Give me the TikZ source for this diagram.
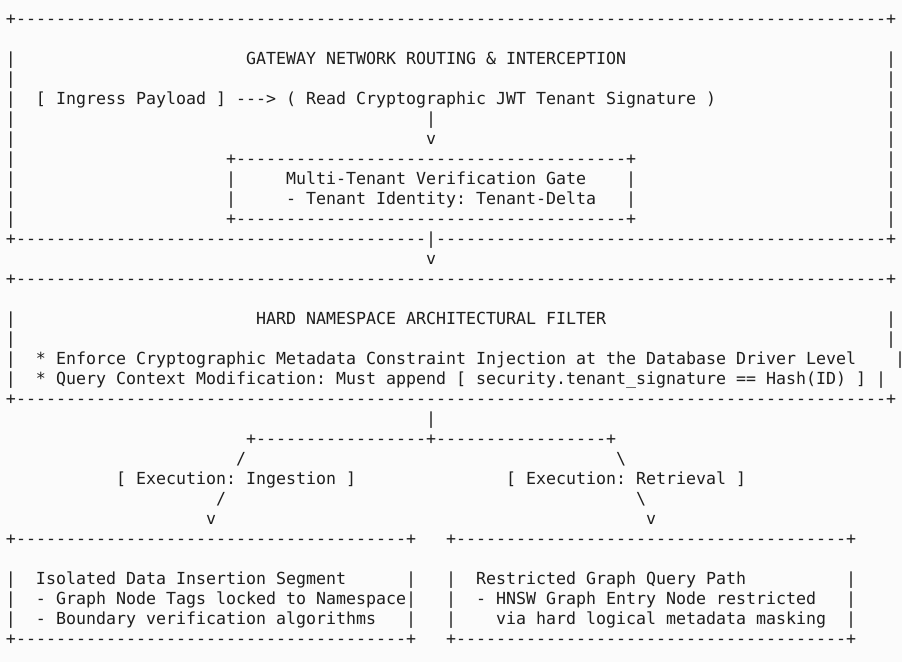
\documentclass[tikz,border=0pt]{standalone}
\usepackage{fontspec}
\setmonofont{DejaVu Sans Mono}
\definecolor{inkgray}{HTML}{1E1E1E}
\definecolor{paper}{HTML}{FBFBFB}
\newcommand{\rulech}[1]{\foreach \k in {1,...,#1}{-}}
\tikzset{
  asc/.style={anchor=base west,inner sep=0pt,outer sep=0pt,text=inkgray,
    font=\fontsize{12.46pt}{15pt}\ttfamily}
}
\begin{document}
\begin{tikzpicture}[x=7.5pt,y=-15pt]

\fill[paper] (0,0) rectangle (90.2,33.1) ;
\useasboundingbox (0,0) rectangle (90.2,33.1) ;

% gateway block
\node[asc] (gw_top) at (0.6,1.2) {+\rulech{87}+} ;
\foreach \r in {2,...,10} {
  \node[asc] (gw_l\r) at (0.6,\r+1.2) {|} ;
  \node[asc] (gw_r\r) at (88.6,\r+1.2) {|} ;
}
\node[asc] (gw_title) at (24.6,3.2) {GATEWAY NETWORK ROUTING \& INTERCEPTION} ;
\node[asc] (gw_flow) at (3.6,5.2) {[ Ingress Payload ] ---> ( Read Cryptographic JWT Tenant Signature )} ;
\node[asc] (gw_bar) at (42.6,6.2) {|} ;
\node[asc] (gw_v) at (42.6,7.2) {v} ;

\node[asc] (gate_top) at (22.6,8.2) {+\rulech{39}+} ;
\node[asc] (gate_l1) at (22.6,9.2) {|} ;
\node[asc] (gate_r1) at (62.6,9.2) {|} ;
\node[asc] (gate_l2) at (22.6,10.2) {|} ;
\node[asc] (gate_r2) at (62.6,10.2) {|} ;
\node[asc] (gate_name) at (28.6,9.2) {Multi-Tenant Verification Gate} ;
\node[asc] (gate_id) at (28.6,10.2) {- Tenant Identity: Tenant-Delta} ;
\node[asc] (gate_bot) at (22.6,11.2) {+\rulech{39}+} ;

\node[asc] (gw_bot) at (0.6,12.2) {+\rulech{41}|\rulech{45}+} ;
\node[asc] (gw_out) at (42.6,13.2) {v} ;

% namespace filter
\node[asc] (ns_top) at (0.6,14.2) {+\rulech{87}+} ;
\foreach \r in {15,16} {
  \node[asc] (ns_l\r) at (0.6,\r+1.2) {|} ;
  \node[asc] (ns_r\r) at (88.6,\r+1.2) {|} ;
}
\node[asc] (ns_l18) at (0.6,18.2) {|} ;
\node[asc] (ns_r18) at (89.5,18.2) {|} ;
\node[asc] (ns_l19) at (0.6,19.2) {|} ;
\node[asc] (ns_r19) at (87.6,19.2) {|} ;
\node[asc] (ns_title) at (25.6,16.2) {HARD NAMESPACE ARCHITECTURAL FILTER} ;
\node[asc] (ns_rule1) at (3.6,18.2) {* Enforce Cryptographic Metadata Constraint Injection at the Database Driver Level} ;
\node[asc] (ns_rule2) at (3.6,19.2) {* Query Context Modification: Must append [ security.tenant\_signature == Hash(ID) ]} ;
\node[asc] (ns_bot) at (0.6,20.2) {+\rulech{87}+} ;

% split into two paths
\node[asc] (split_bar) at (42.6,21.2) {|} ;
\node[asc] (split) at (24.6,22.2) {+\rulech{17}+\rulech{17}+} ;
\node[asc] (ing_s1) at (23.6,23.2) {/} ;
\node[asc] (ret_s1) at (61.6,23.2) {\textbackslash} ;
\node[asc] (ing_lbl) at (11.6,24.2) {[ Execution: Ingestion ]} ;
\node[asc] (ret_lbl) at (50.6,24.2) {[ Execution: Retrieval ]} ;
\node[asc] (ing_s2) at (21.6,25.2) {/} ;
\node[asc] (ret_s2) at (63.6,25.2) {\textbackslash} ;
\node[asc] (ing_v) at (20.6,26.2) {v} ;
\node[asc] (ret_v) at (64.6,26.2) {v} ;

% ingestion box
\node[asc] (ing_top) at (0.6,27.2) {+\rulech{39}+} ;
\foreach \r in {28,29,30} {
  \node[asc] (ing_l\r) at (0.6,\r+1.2) {|} ;
  \node[asc] (ing_r\r) at (40.6,\r+1.2) {|} ;
}
\node[asc] (ing_t1) at (3.6,29.2) {Isolated Data Insertion Segment} ;
\node[asc] (ing_t2) at (3.6,30.2) {- Graph Node Tags locked to Namespace} ;
\node[asc] (ing_t3) at (3.6,31.2) {- Boundary verification algorithms} ;
\node[asc] (ing_bot) at (0.6,32.2) {+\rulech{39}+} ;

% retrieval box
\node[asc] (ret_top) at (44.6,27.2) {+\rulech{39}+} ;
\foreach \r in {28,29,30} {
  \node[asc] (ret_l\r) at (44.6,\r+1.2) {|} ;
  \node[asc] (ret_r\r) at (84.6,\r+1.2) {|} ;
}
\node[asc] (ret_t1) at (47.6,29.2) {Restricted Graph Query Path} ;
\node[asc] (ret_t2) at (47.6,30.2) {- HNSW Graph Entry Node restricted} ;
\node[asc] (ret_t3) at (49.6,31.2) {via hard logical metadata masking} ;
\node[asc] (ret_bot) at (44.6,32.2) {+\rulech{39}+} ;

\end{tikzpicture}
\end{document}
